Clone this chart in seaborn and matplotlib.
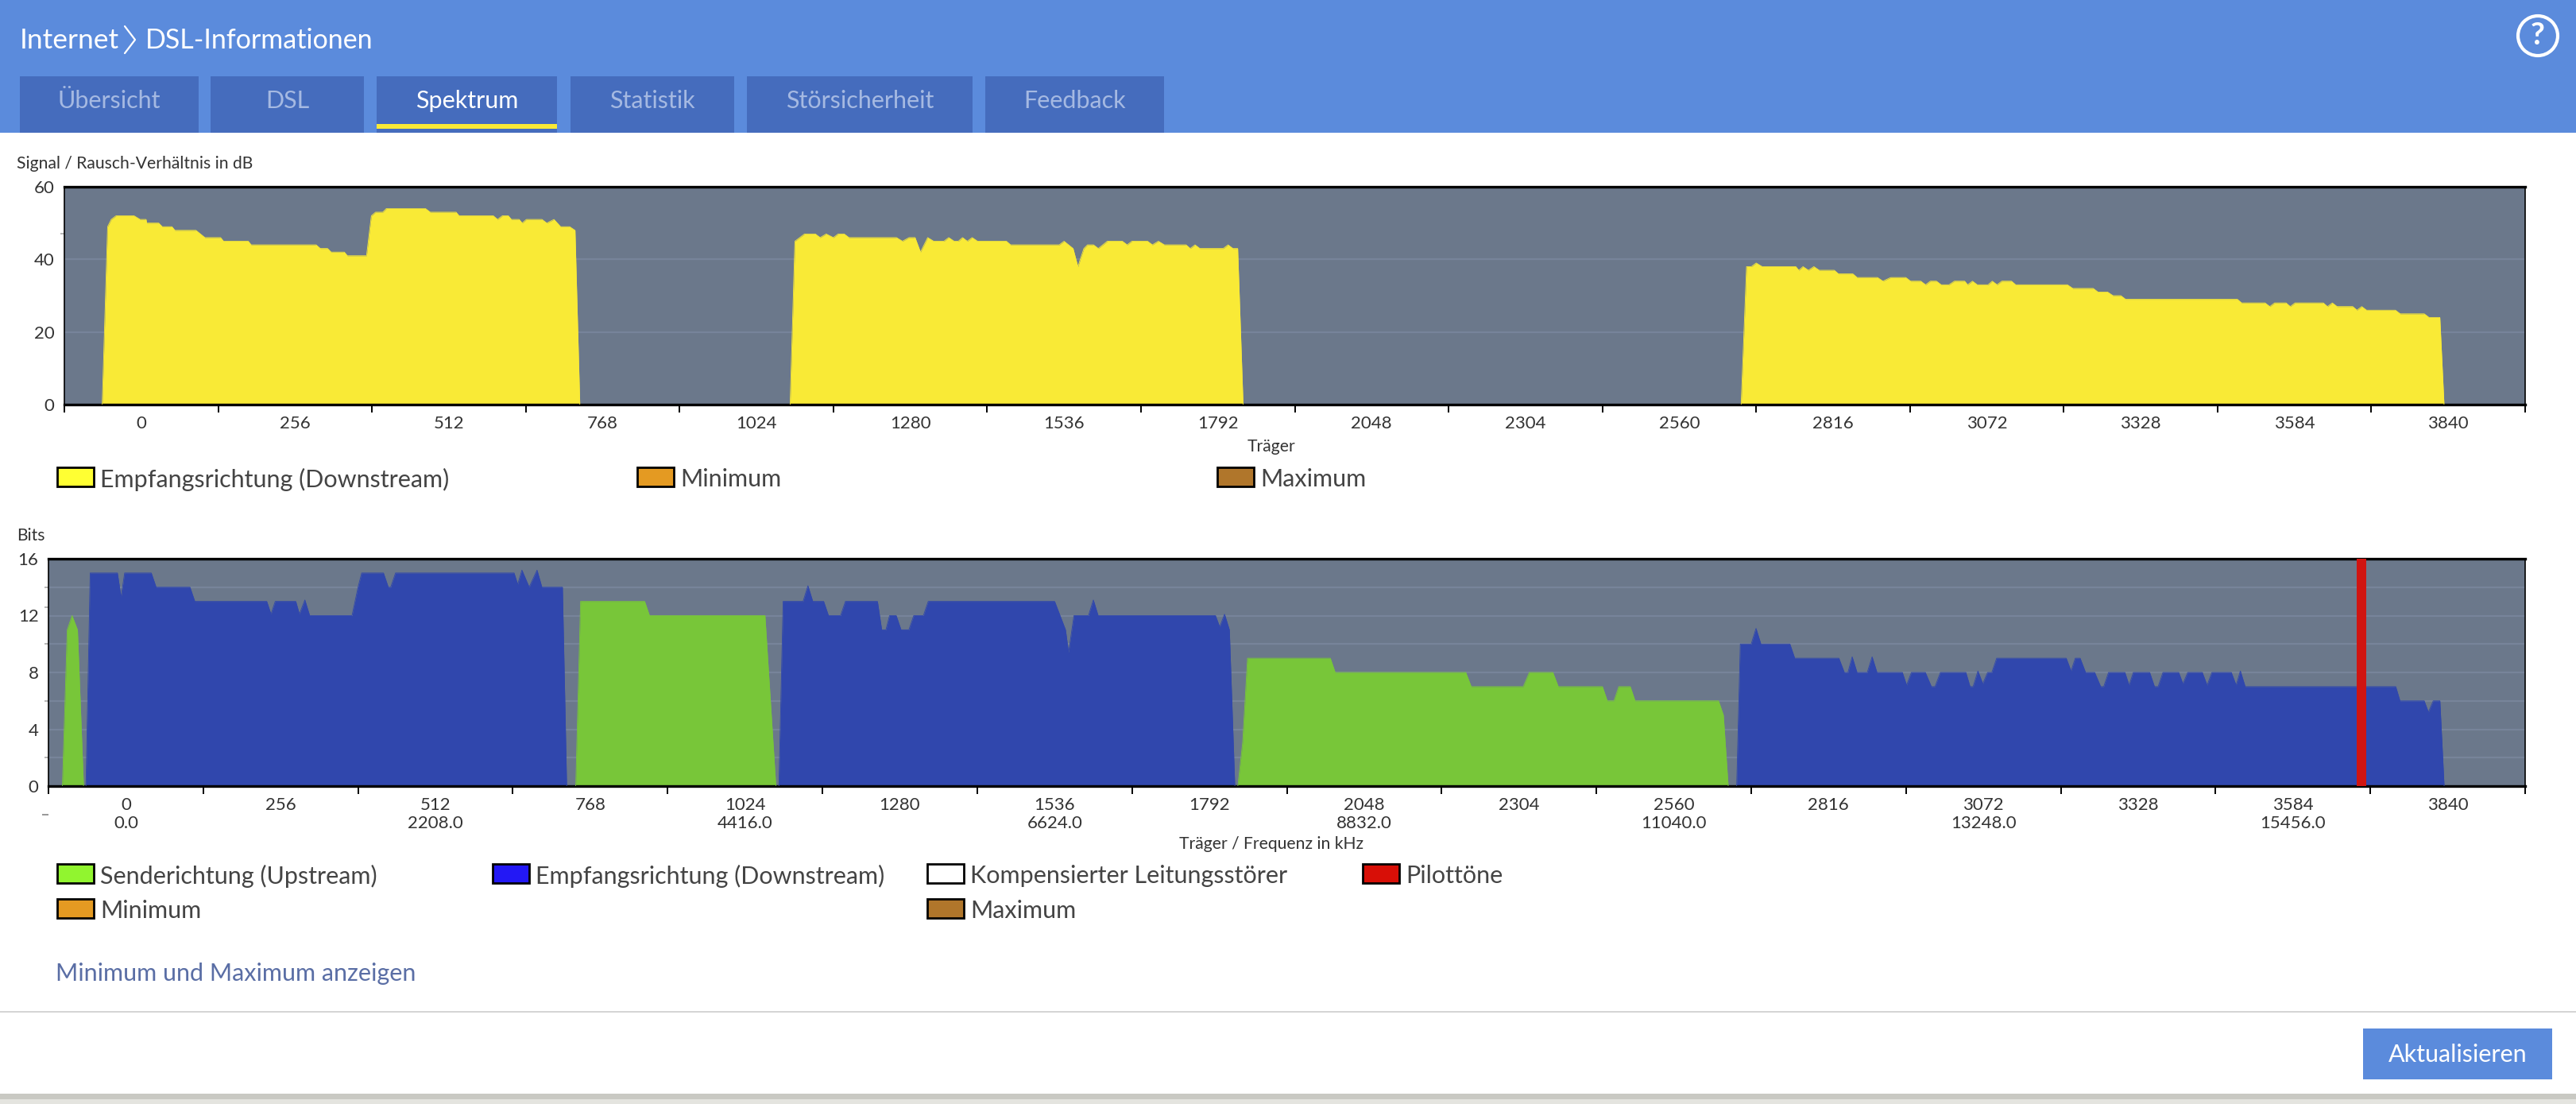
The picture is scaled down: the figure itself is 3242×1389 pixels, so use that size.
import matplotlib
matplotlib.use('Agg')
import matplotlib.pyplot as plt
from matplotlib.patches import Rectangle, Circle
from matplotlib.transforms import blended_transform_factory
import seaborn as sns

# --- SNR chart (carrier, dB) ---
snr1_x = [-65, -56, -50, -42, -12, -2, 8, 9, 29, 35, 51, 56, 91, 106, 132, 137, 178, 183, 291, 298, 310, 316, 338, 343, 375, 383, 390, 402, 408, 473, 481, 524, 529, 586, 593, 601, 611, 616, 629, 634, 641, 667, 675, 687, 698, 713, 722, 730]
snr1_y = [0, 49, 51, 52, 52, 51, 51, 50, 50, 49, 49, 48, 48, 46, 46, 45, 45, 44, 44, 43, 43, 42, 42, 41, 41, 52, 53, 53, 54, 54, 53, 53, 52, 52, 51, 52, 52, 51, 51, 50, 51, 51, 50, 51, 49, 49, 48, 0]
snr2_x = [1080, 1088, 1104, 1122, 1130, 1140, 1152, 1160, 1170, 1178, 1257, 1267, 1278, 1288, 1297, 1309, 1319, 1336, 1344, 1353, 1360, 1367, 1375, 1383, 1392, 1440, 1447, 1528, 1536, 1551, 1559, 1569, 1575, 1585, 1593, 1608, 1633, 1641, 1649, 1675, 1683, 1693, 1703, 1739, 1746, 1754, 1762, 1801, 1809, 1817, 1825, 1834]
snr2_y = [0, 45, 47, 47, 46, 47, 46, 47, 47, 46, 46, 45, 46, 46, 42, 46, 45, 45, 46, 45, 45, 46, 45, 46, 45, 45, 44, 44, 45, 43, 38, 43, 44, 44, 43, 45, 45, 44, 45, 45, 44, 45, 44, 44, 43, 44, 43, 43, 44, 43, 43, 0]
snr3_x = [2663, 2672, 2680, 2688, 2698, 2754, 2759, 2766, 2775, 2784, 2793, 2818, 2825, 2849, 2856, 2890, 2899, 2912, 2937, 2945, 2962, 2970, 2978, 2988, 2996, 3009, 3018, 3035, 3040, 3048, 3056, 3074, 3081, 3089, 3097, 3113, 3120, 3206, 3215, 3249, 3257, 3273, 3282, 3295, 3303, 3489, 3496, 3535, 3543, 3551, 3570, 3577, 3585, 3632, 3639, 3647, 3655, 3681, 3688, 3696, 3704, 3752, 3760, 3800, 3808, 3826, 3833]
snr3_y = [0, 38, 38, 39, 38, 38, 37, 38, 37, 38, 37, 37, 36, 36, 35, 35, 34, 35, 35, 34, 34, 33, 34, 34, 33, 33, 34, 34, 33, 34, 33, 33, 34, 33, 34, 34, 33, 33, 32, 32, 31, 31, 30, 30, 29, 29, 28, 28, 27, 28, 28, 27, 28, 28, 27, 28, 27, 27, 26, 27, 26, 26, 25, 25, 24, 24, 0]

# --- Bits chart: upstream (carrier, bits) ---
up1_x = [-105, -97, -89, -80, -70]
up1_y = [0, 11, 12, 11, 0]
up2_x = [744, 752, 858, 866, 1057, 1075]
up2_y = [0, 13, 13, 12, 12, 0]
up3_x = [1839, 1847, 1855, 1992, 2000, 2216, 2225, 2311, 2321, 2360, 2369, 2442, 2450, 2461, 2469, 2488, 2496, 2634, 2642, 2650]
up3_y = [0, 3.1, 9, 9, 8, 8, 7, 7, 8, 8, 7, 7, 6, 6, 7, 7, 6, 6, 5, 0]

# --- Bits chart: downstream ---
down1_x = [-66, -59, -14, -8, -2, 42, 50, 106, 114, 233, 240, 247, 281, 287, 296, 304, 374, 384, 390, 426, 434, 438, 446, 642, 648, 655, 667, 680, 688, 722, 729]
down1_y = [0, 15, 15, 13.3, 15, 15, 14, 14, 13, 13, 12.1, 13, 13, 12.1, 13.1, 12, 12, 14, 15, 15, 14, 14, 15, 15, 14.2, 15.2, 14, 15.2, 14, 14, 0]
down2_x = [1080, 1087, 1120, 1128, 1136, 1154, 1162, 1182, 1190, 1243, 1250, 1257, 1263, 1274, 1282, 1295, 1303, 1319, 1327, 1536, 1554, 1559, 1568, 1592, 1600, 1608, 1802, 1809, 1817, 1825, 1834]
down2_y = [0, 13, 13, 14.1, 13, 13, 12, 12, 13, 13, 11, 11, 12, 12, 11, 11, 12, 12, 13, 13, 11, 9.4, 12, 12, 13.1, 12, 12, 11.2, 12.1, 11, 0]
down3_x = [2664, 2670, 2688, 2696, 2704, 2752, 2760, 2833, 2842, 2848, 2855, 2863, 2880, 2888, 2896, 2938, 2945, 2953, 2976, 2986, 2992, 3001, 3043, 3050, 3055, 3063, 3071, 3079, 3086, 3094, 3209, 3217, 3224, 3232, 3241, 3256, 3266, 3271, 3279, 3306, 3313, 3320, 3347, 3355, 3361, 3369, 3395, 3402, 3410, 3434, 3442, 3450, 3482, 3490, 3497, 3505, 3754, 3761, 3801, 3808, 3816, 3827, 3834]
down3_y = [0, 10, 10, 11.1, 10, 10, 9, 9, 8, 8, 9.1, 8, 8, 9.1, 8, 8, 7.1, 8, 8, 7, 7, 8, 8, 7, 7, 8.1, 7.2, 8, 8, 9, 9, 8.1, 9, 9, 8, 8, 7, 7, 8, 8, 7.1, 8, 8, 7, 7, 8, 8, 7.2, 8, 8, 7.1, 8, 8, 7.1, 8.1, 7, 7, 6, 6, 5.2, 6, 6, 0]
pilot_carrier = [3697]

# --- axis labels ---
carrier_ticks = [0, 256, 512, 768, 1024, 1280, 1536, 1792, 2048, 2304, 2560, 2816, 3072, 3328, 3584, 3840]
freq_carriers = [0, 512, 1024, 1536, 2048, 2560, 3072, 3584]
freq_labels = ['0.0', '2208.0', '4416.0', '6624.0', '8832.0', '11040.0', '13248.0', '15456.0']
tab_names = ['Übersicht', 'DSL', 'Spektrum', 'Statistik', 'Störsicherheit', 'Feedback']

# --- colours ---
PAGE_BLUE = '#5b8bdc'
TAB_BLUE = '#456cbd'
PLOT_BG = '#6b788b'
GRID = '#77849a'
YELLOW = '#f9ea36'
BLUE = '#3047ad'
GREEN = '#78c639'
RED = '#d01511'
TEXT = '#444444'

W, H = 3242, 1389
sns.set_theme(style='white')
plt.rcParams['font.family'] = ['Lato', 'DejaVu Sans']

fig = plt.figure(figsize=(W / 100, H / 100), dpi=100, facecolor='white')

# page layer in pixel coordinates for the surrounding interface
page = fig.add_axes([0, 0, 1, 1])
page.set_xlim(0, W)
page.set_ylim(H, 0)
page.axis('off')


def box(x0, y0, x1, y1, color, edge='none', lw=0):
    page.add_patch(Rectangle((x0, y0), x1 - x0, y1 - y0, facecolor=color, edgecolor=edge, linewidth=lw))


def label(x, y, s, size, color=TEXT, ha='left', **kw):
    page.text(x, y, s, fontsize=size, color=color, ha=ha, va='center', **kw)


# header and tabs
box(0, 0, W, 167, PAGE_BLUE)
label(25, 51, 'Internet', 25.5, 'white')
page.plot([157, 170, 157], [33, 50, 67], color='white', lw=1.6)
label(183, 51, 'DSL-Informationen', 24.5, 'white')
tab_spans = [(25, 250), (265, 458), (474, 701), (718, 924), (940, 1224), (1240, 1465)]
for i, (name, span) in enumerate(zip(tab_names, tab_spans)):
    box(span[0], 96, span[1], 167, TAB_BLUE)
    label(sum(span) / 2, 127, name, 22, 'white' if name == 'Spektrum' else '#a5b9e2', ha='center')
box(474, 156, 701, 162, YELLOW)
page.add_patch(Circle((3194, 45), 25, facecolor='none', edgecolor='white', linewidth=3))
label(3194, 45, '?', 28, 'white', ha='center', fontweight='bold')


def chart(left, right, top, bottom, ylim, major, grid, minor):
    ax = fig.add_axes([left / W, 1 - bottom / H, (right - left) / W, (bottom - top) / H], facecolor=PLOT_BG)
    ax.set_xlim(-128, 3968)
    ax.set_ylim(0, ylim)
    ax.set_xticks(list(range(-128, 3969, 256)))
    ax.set_xticklabels([])
    ax.set_xticks(carrier_ticks, labels=[str(c) for c in carrier_ticks], minor=True)
    ax.tick_params(axis='x', which='major', length=7.5, width=1.4, color='black', direction='out', bottom=True)
    ax.tick_params(axis='x', which='minor', length=0, pad=10, labelsize=16, labelcolor='#333333')
    ax.set_yticks(major)
    ax.set_yticks(minor, minor=True)
    ax.tick_params(axis='y', which='major', length=0, pad=9, labelsize=16, labelcolor='#333333')
    ax.tick_params(axis='y', which='minor', length=3.5, width=1.2, color='#a9a9a9', left=True)
    for g in grid:
        ax.axhline(g, color=GRID, lw=1.6, zorder=1)
    for side, width in zip(['top', 'bottom', 'left', 'right'], [2.4, 2.4, 1.2, 1.2]):
        ax.spines[side].set_visible(True)
        ax.spines[side].set_color('black')
        ax.spines[side].set_linewidth(width)
    ax.grid(False)
    return ax


def band(ax, xs, ys, color):
    ax.fill_between(xs, ys, 0, color=color, linewidth=0, zorder=2)
    sns.lineplot(x=xs, y=ys, color=color, lw=0.6, sort=False, estimator=None, ax=ax, zorder=3)


# signal-to-noise chart
ax1 = chart(81, 3178, 235, 509, 60, [0, 20, 40, 60], [20, 40], [20, 47])
for xs, ys in [(snr1_x, snr1_y), (snr2_x, snr2_y), (snr3_x, snr3_y)]:
    band(ax1, xs, ys, YELLOW)
ax1.set(xlabel='', ylabel='')

# bit allocation chart
ax2 = chart(61, 3178, 703, 989, 16, [0, 4, 8, 12, 16], [2, 4, 6, 8, 10, 12, 14], [2, 6, 10, 12.6, 14])
for xs, ys in [(up1_x, up1_y), (up2_x, up2_y), (up3_x, up3_y)]:
    band(ax2, xs, ys, GREEN)
for xs, ys in [(down1_x, down1_y), (down2_x, down2_y), (down3_x, down3_y)]:
    band(ax2, xs, ys, BLUE)
ax2.bar(pilot_carrier, [16], width=16, color=RED, linewidth=0, zorder=4)
ax2.set(xlabel='', ylabel='')
trans = blended_transform_factory(ax2.transData, page.transData)
for c, f in zip(freq_carriers, freq_labels):
    ax2.text(c, 1036, f, transform=trans, fontsize=16, color='#333333', ha='center', va='center', clip_on=False)
box(53, 1024, 61, 1026, '#999999')

# chart captions
label(21, 206, 'Signal / Rausch-Verhältnis in dB', 15.2, '#333333')
label(1600, 562, 'Träger', 15.2, '#333333', ha='center')
label(21, 674, 'Bits', 15.2, '#333333')
label(1600, 1062, 'Träger / Frequenz in kHz', 15.2, '#333333', ha='center')


def legend_item(x, y, name, color):
    box(x, y - 12, x + 46, y + 12, color, 'black', 2)
    label(x + 54, y + 3, name, 22, TEXT)


legend_item(72, 600, 'Empfangsrichtung (Downstream)', '#ffff33')
legend_item(802, 600, 'Minimum', '#e49a22')
legend_item(1532, 600, 'Maximum', '#b0762b')
legend_item(72, 1099, 'Senderichtung (Upstream)', '#91f52f')
legend_item(620, 1099, 'Empfangsrichtung (Downstream)', '#2318f5')
legend_item(1167, 1099, 'Kompensierter Leitungsstörer', 'white')
legend_item(1715, 1099, 'Pilottöne', '#d80f07')
legend_item(72, 1143, 'Minimum', '#e49a22')
legend_item(1167, 1143, 'Maximum', '#b0762b')

# footer
label(70, 1225, 'Minimum und Maximum anzeigen', 22, '#5a6ea5')
box(0, 1272, W, 1274, '#d5d5d5')
box(2974, 1294, 3212, 1358, PAGE_BLUE)
label(3093, 1327, 'Aktualisieren', 22, 'white', ha='center')
box(0, 1376, W, 1383, '#c9c9c3')
box(0, 1383, W, 1389, '#e4e4df')

fig.savefig('out.png', dpi=100)
